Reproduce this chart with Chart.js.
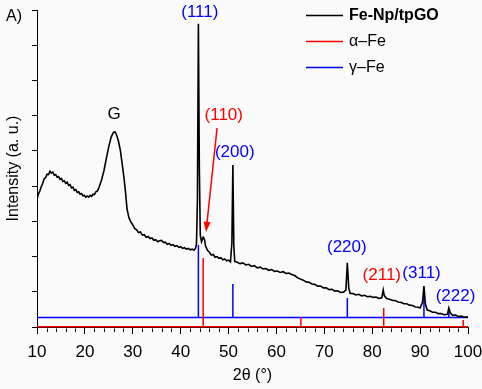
<!DOCTYPE html>
<html>
<head>
<meta charset="utf-8">
<script src="https://cdn.jsdelivr.net/npm/chart.js@4/dist/chart.umd.min.js"></script>
<style>
  html, body { margin: 0; padding: 0; background: #fafafa; }
</style>
</head>
<body>
<canvas id="xrd" width="482" height="389"></canvas>
<script>
// Measured pattern: [2theta (deg), intensity (a. u.)]
const pattern = [
  [10.0, 3.62], [10.3, 3.78], [10.6, 3.86], [10.9, 3.99], [11.2, 4.08], [11.5, 4.21], [11.8, 4.24],
  [12.1, 4.34], [12.4, 4.33], [12.7, 4.42], [13.0, 4.37], [13.3, 4.40], [13.6, 4.31], [13.9, 4.33],
  [14.2, 4.25], [14.5, 4.27], [14.8, 4.19], [15.1, 4.22], [15.4, 4.13], [15.7, 4.15], [16.0, 4.08],
  [16.3, 4.11], [16.6, 4.02], [16.9, 4.04], [17.2, 3.95], [17.5, 3.97], [17.8, 3.88], [18.1, 3.90],
  [18.4, 3.82], [18.7, 3.84], [19.0, 3.77], [19.3, 3.79], [19.6, 3.72], [19.9, 3.74], [20.2, 3.68],
  [20.5, 3.72], [20.8, 3.69], [21.1, 3.74], [21.4, 3.71], [21.7, 3.77], [22.0, 3.76], [22.3, 3.84],
  [22.6, 3.86], [23.0, 3.98], [23.5, 4.18], [24.0, 4.45], [24.5, 4.80], [25.0, 5.13], [25.5, 5.40],
  [26.0, 5.53], [26.3, 5.54], [26.6, 5.46], [27.0, 5.28], [27.4, 5.02], [27.8, 4.62], [28.2, 4.20],
  [28.5, 3.80], [28.8, 3.35], [29.2, 3.10], [29.6, 2.98], [30.0, 2.90], [30.4, 2.80], [30.8, 2.76],
  [31.2, 2.68], [31.6, 2.70], [32.0, 2.61], [32.4, 2.62], [32.8, 2.55], [33.2, 2.57], [33.6, 2.51],
  [34.0, 2.53], [34.4, 2.46], [34.8, 2.48], [35.2, 2.42], [35.6, 2.45], [36.0, 2.46], [36.4, 2.40],
  [36.8, 2.41], [37.2, 2.35], [37.6, 2.37], [38.0, 2.32], [38.4, 2.34], [38.8, 2.29], [39.2, 2.31],
  [39.6, 2.26], [40.0, 2.28], [40.4, 2.23], [40.8, 2.25], [41.2, 2.21], [41.6, 2.23], [42.0, 2.19],
  [42.4, 2.21], [42.8, 2.18], [43.1, 2.24], [43.3, 2.35], [43.5, 3.60], [43.7, 8.61], [43.9, 4.50],
  [44.1, 2.60], [44.35, 2.42], [44.7, 2.55], [44.95, 2.50], [45.2, 2.30], [45.6, 2.18], [46.0, 2.12],
  [46.4, 2.04], [46.8, 2.06], [47.2, 1.98], [47.6, 2.00], [48.0, 1.95], [48.4, 1.97], [48.8, 1.91],
  [49.2, 1.93], [49.6, 1.88], [50.0, 1.90], [50.4, 1.85], [50.7, 2.40], [50.9, 4.60], [51.1, 2.30],
  [51.3, 1.86], [51.8, 1.84], [52.4, 1.80], [53.0, 1.82], [53.6, 1.76], [54.2, 1.78], [54.8, 1.72],
  [55.4, 1.74], [56.0, 1.68], [56.6, 1.70], [57.2, 1.65], [57.8, 1.66], [58.4, 1.61], [59.0, 1.63],
  [59.6, 1.58], [60.2, 1.59], [60.8, 1.55], [61.4, 1.57], [62.0, 1.52], [62.6, 1.53], [63.2, 1.49],
  [63.8, 1.46], [64.4, 1.40], [65.0, 1.36], [65.6, 1.33], [66.2, 1.28], [66.8, 1.27], [67.4, 1.22],
  [68.0, 1.21], [68.6, 1.16], [69.2, 1.16], [69.8, 1.11], [70.4, 1.11], [71.0, 1.06], [71.6, 1.07],
  [72.2, 1.02], [72.8, 1.03], [73.4, 0.98], [74.0, 0.99], [74.5, 1.05], [74.8, 1.82], [75.1, 1.10],
  [75.4, 0.95], [76.0, 0.95], [76.6, 0.91], [77.2, 0.93], [77.8, 0.88], [78.4, 0.90], [79.0, 0.86],
  [79.6, 0.87], [80.2, 0.84], [80.8, 0.85], [81.4, 0.81], [82.0, 0.83], [82.3, 1.05], [82.5, 0.90],
  [83.0, 0.81], [83.6, 0.79], [84.2, 0.76], [84.8, 0.75], [85.4, 0.71], [86.0, 0.70], [86.6, 0.66],
  [87.2, 0.66], [87.8, 0.62], [88.4, 0.61], [89.0, 0.57], [89.6, 0.56], [90.0, 0.54], [90.5, 0.70],
  [90.8, 1.16], [91.1, 0.65], [91.5, 0.48], [92.0, 0.46], [92.6, 0.42], [93.2, 0.42], [93.8, 0.38],
  [94.4, 0.38], [95.0, 0.35], [95.7, 0.36], [96.0, 0.54], [96.3, 0.40], [96.8, 0.33], [97.4, 0.34],
  [98.0, 0.30], [98.6, 0.31], [99.2, 0.28], [100.0, 0.28]
];

// Reference stick patterns
const gammaPos = [43.7, 50.9, 74.8, 90.8, 96.0];
const gammaTop = [2.33, 1.22, 0.82, 0.91, 0.43];
const gammaBase = 0.27;
const alphaPos = [44.7, 65.1, 82.4, 99.0];
const alphaTop = [1.96, 0.28, 0.54, 0.20];
const alphaBase = 0.01;

// Reflection labels: text, 2theta, intensity, colour
const peakText  = ['(111)', 'G', '(110)', '(200)', '(220)', '(211)', '(311)', '(222)'];
const peakAtX   = [44.0, 26.1, 49.0, 51.3, 74.7, 82.0, 90.3, 97.4];
const peakAtY   = [8.93, 6.05, 6.02, 4.97, 2.27, 1.48, 1.53, 0.88];
const peakColor = ['#0000ff', '#000000', '#ff0000', '#0000ff', '#0000ff', '#ff0000', '#0000ff', '#0000ff'];

const FONT = '"Liberation Sans", Arial, sans-serif';

function sticks(pos, top, base) {
  const pts = [{ x: 10, y: base }];
  pos.forEach((p, i) => {
    pts.push({ x: p, y: base }, { x: p, y: top[i] }, { x: p, y: base });
  });
  pts.push({ x: 100, y: base });
  return pts;
}

const background = {
  id: 'background',
  beforeDraw(chart) {
    const c = chart.ctx;
    c.save();
    c.fillStyle = '#fafafa';
    c.fillRect(0, 0, chart.width, chart.height);
    c.restore();
  }
};

// short ticks every 2 degrees on the x axis
const minorTicks = {
  id: 'minorTicks',
  afterDraw(chart) {
    const c = chart.ctx, xs = chart.scales.x, b = chart.chartArea.bottom;
    c.save();
    c.strokeStyle = '#000';
    c.lineWidth = 1;
    for (let v = 12; v < 100; v += 2) {
      if (v % 10 === 0) continue;
      const px = Math.round(xs.getPixelForValue(v)) + 0.5;
      c.beginPath();
      c.moveTo(px, b + 1.5);
      c.lineTo(px, b + 5);
      c.stroke();
    }
    c.restore();
  }
};

const labels = {
  id: 'labels',
  afterDatasetsDraw(chart) {
    const c = chart.ctx, xs = chart.scales.x, ys = chart.scales.y;
    c.save();
    c.font = '17px ' + FONT;
    c.textAlign = 'center';
    c.textBaseline = 'middle';
    peakText.forEach((t, i) => {
      c.fillStyle = peakColor[i];
      c.fillText(t, xs.getPixelForValue(peakAtX[i]), ys.getPixelForValue(peakAtY[i]));
    });
    c.fillStyle = '#000';
    c.textAlign = 'left';
    c.font = '16px ' + FONT;
    c.fillText('A)', 6, 17);

    // arrow pointing at the alpha (110) shoulder
    const x1 = xs.getPixelForValue(47.6), y1 = ys.getPixelForValue(5.65);
    const x2 = xs.getPixelForValue(45.3), y2 = ys.getPixelForValue(2.70);
    const ang = Math.atan2(y2 - y1, x2 - x1);
    c.strokeStyle = '#ff0000';
    c.fillStyle = '#ff0000';
    c.lineWidth = 1.5;
    c.beginPath();
    c.moveTo(x1, y1);
    c.lineTo(x2 - 6 * Math.cos(ang), y2 - 6 * Math.sin(ang));
    c.stroke();
    c.beginPath();
    c.moveTo(x2, y2);
    c.lineTo(x2 - 10 * Math.cos(ang) + 3.5 * Math.sin(ang), y2 - 10 * Math.sin(ang) - 3.5 * Math.cos(ang));
    c.lineTo(x2 - 10 * Math.cos(ang) - 3.5 * Math.sin(ang), y2 - 10 * Math.sin(ang) + 3.5 * Math.cos(ang));
    c.closePath();
    c.fill();
    c.restore();
  }
};

const legendBox = {
  id: 'legendBox',
  afterDraw(chart) {
    const c = chart.ctx;
    c.save();
    chart.data.datasets.forEach((ds, i) => {
      const y = 15 + i * 26;
      c.strokeStyle = ds.borderColor;
      c.lineWidth = 1.5;
      c.beginPath();
      c.moveTo(306, y + 0.5);
      c.lineTo(343, y + 0.5);
      c.stroke();
      c.fillStyle = '#000';
      c.font = (i === 0 ? 'bold ' : '') + '16px ' + FONT;
      c.textAlign = 'left';
      c.textBaseline = 'middle';
      c.fillText(ds.label, 349, y + 1);
    });
    c.restore();
  }
};

new Chart(document.getElementById('xrd').getContext('2d'), {
  type: 'line',
  data: {
    datasets: [
      {
        label: 'Fe-Np/tpGO',
        data: pattern.map(p => ({ x: p[0], y: p[1] })),
        borderColor: '#000000',
        borderWidth: 1.6,
        pointRadius: 0,
        tension: 0
      },
      {
        label: 'α–Fe',
        data: sticks(alphaPos, alphaTop, alphaBase),
        borderColor: '#ff0000',
        borderWidth: 1.5,
        pointRadius: 0,
        clip: 4
      },
      {
        label: 'γ–Fe',
        data: sticks(gammaPos, gammaTop, gammaBase),
        borderColor: '#0000ff',
        borderWidth: 1.5,
        pointRadius: 0,
        clip: 4
      }
    ]
  },
  options: {
    responsive: false,
    animation: false,
    devicePixelRatio: 1,
    layout: { padding: { top: 10, right: 14, left: 0, bottom: 0 } },
    plugins: { legend: { display: false }, tooltip: { enabled: false } },
    scales: {
      x: {
        type: 'linear',
        min: 10,
        max: 100,
        afterFit(s) { s.height = 62; s.paddingLeft = 0; s.paddingRight = 0; },
        ticks: { stepSize: 10, maxRotation: 0, padding: 8, color: '#000', font: { family: FONT, size: 17 } },
        grid: { drawOnChartArea: false, drawTicks: true, tickLength: 7, color: '#000' },
        border: { color: '#000', width: 1 },
        title: { display: true, text: '2θ (°)', color: '#000', font: { family: FONT, size: 16 }, padding: { top: 0, bottom: 4 } }
      },
      y: {
        min: 0,
        max: 9,
        afterFit(s) { s.width = 37; },
        ticks: { stepSize: 1, display: false },
        grid: { drawOnChartArea: false, drawTicks: true, tickLength: 5, color: '#000' },
        border: { color: '#000', width: 1 },
        title: { display: true, text: 'Intensity (a. u.)', color: '#000', font: { family: FONT, size: 16 }, padding: { top: 4, bottom: 0 } }
      }
    }
  },
  plugins: [background, minorTicks, labels, legendBox]
});
</script>
</body>
</html>
